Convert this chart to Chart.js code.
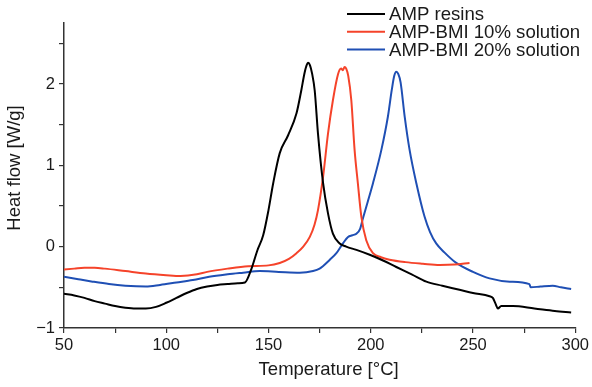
<!DOCTYPE html>
<html>
<head>
<meta charset="utf-8">
<script src="https://cdn.jsdelivr.net/npm/chart.js@4.4.0/dist/chart.umd.min.js"></script>
<style>
  html, body { margin: 0; padding: 0; background: #fff; }
  #wrap { width: 592px; height: 387px; }
</style>
</head>
<body>
<div id="wrap"><canvas id="dsc"></canvas></div>
<script>
// DSC curves (temperature in °C, heat flow in W/g)
const seriesNames = ["AMP resins", "AMP-BMI 10% solution", "AMP-BMI 20% solution"];

const ampTemp = [50, 55, 60, 65, 70, 75, 80, 85, 90, 95, 100, 105, 110, 115, 120, 125, 130, 135, 138.5,
  141.7, 144.5, 147.4, 150, 152.3, 155.5, 159.6, 163.7, 166.1, 167.5, 168.5, 169.4, 170.3, 171.3, 172.6,
  174.2, 176.7, 179.1, 181.5, 184.8, 188, 193, 199.5, 206, 212.5, 220, 227.2, 235, 243.4, 250, 258.1,
  259.7, 261, 262.2, 263.8, 269.5, 280, 290, 298];
const ampFlow = [-0.58, -0.6, -0.63, -0.67, -0.7, -0.73, -0.75, -0.76, -0.76, -0.74, -0.69, -0.63, -0.57,
  -0.52, -0.49, -0.47, -0.46, -0.45, -0.44, -0.27, -0.05, 0.14, 0.45, 0.78, 1.15, 1.37, 1.64, 1.93, 2.12,
  2.22, 2.26, 2.23, 2.13, 1.92, 1.39, 0.78, 0.41, 0.16, 0.04, 0.0, -0.04, -0.1, -0.17, -0.25, -0.34,
  -0.43, -0.48, -0.53, -0.57, -0.61, -0.63, -0.7, -0.76, -0.73, -0.73, -0.76, -0.79, -0.81];

const bmi10Temp = [50, 55, 60, 65, 70, 80, 90, 100, 107, 115, 120, 130, 140, 150, 155.5, 160, 163.7, 167,
  170.2, 172.5, 174.2, 176.7, 179.1, 181.5, 184, 185.5, 186.4, 187.2, 188, 189, 190.5, 192.1, 193.7,
  195.4, 197.8, 201.1, 205, 209.2, 217, 225.5, 233.7, 241, 248.3];
const bmi10Flow = [-0.28, -0.27, -0.26, -0.26, -0.27, -0.3, -0.33, -0.35, -0.36, -0.34, -0.31, -0.27,
  -0.24, -0.23, -0.2, -0.15, -0.08, 0.0, 0.12, 0.27, 0.45, 0.86, 1.39, 1.8, 2.12, 2.19, 2.17, 2.21, 2.19,
  2.1, 1.8, 1.19, 0.78, 0.37, 0.08, -0.08, -0.13, -0.16, -0.19, -0.21, -0.225, -0.22, -0.2];

const bmi20Temp = [50, 57, 64, 72, 80, 90, 97, 105, 113, 121, 130, 137.6, 145.7, 155, 165.3, 171.8, 175,
  180, 183.2, 186.4, 188.9, 191, 193, 194.8, 196.2, 198.5, 201.1, 205.2, 208.4, 210.3, 211.5, 212.5,
  213.5, 214.6, 216.6, 219, 222.3, 226.3, 229, 232, 236, 241.8, 250, 258.1, 268, 277.6, 278.2, 283, 289,
  293, 298];
const bmi20Flow = [-0.37, -0.4, -0.43, -0.46, -0.48, -0.49, -0.47, -0.44, -0.41, -0.37, -0.34, -0.32,
  -0.3, -0.31, -0.32, -0.3, -0.27, -0.16, -0.08, 0.04, 0.12, 0.14, 0.16, 0.22, 0.35, 0.55, 0.78, 1.19,
  1.6, 1.93, 2.1, 2.15, 2.12, 2.02, 1.6, 1.19, 0.78, 0.37, 0.18, 0.04, -0.07, -0.2, -0.31, -0.39, -0.43,
  -0.46, -0.5, -0.49, -0.48, -0.5, -0.52];

const xMajorTicks = [50, 100, 150, 200, 250, 300];
const yMajorTicks = [-1, 0, 1, 2];
const xTitle = "Temperature [°C]";
const yTitle = "Heat flow [W/g]";

const colors = ["#000000", "#f5432a", "#1f4fb4"];
const FONT = '"Liberation Sans", Arial, Helvetica, sans-serif';

function pairs(xs, ys) {
  return xs.map((x, i) => ({ x: x, y: ys[i] }));
}

// legend in the top right corner and the two axis titles
const overlay = {
  id: "overlay",
  afterDraw(chart) {
    const ctx = chart.ctx;
    const area = chart.chartArea;
    ctx.save();
    ctx.font = "18.6px " + FONT;
    ctx.textBaseline = "middle";
    chart.data.datasets.forEach((ds, i) => {
      const y = 14 + i * 17.7;
      ctx.strokeStyle = ds.borderColor;
      ctx.lineWidth = 2;
      ctx.beginPath();
      ctx.moveTo(347, y);
      ctx.lineTo(385, y);
      ctx.stroke();
      ctx.fillStyle = "#1a1a1a";
      ctx.fillText(ds.label, 389, y + 1);
    });

    ctx.font = "18.5px " + FONT;
    ctx.fillStyle = "#1a1a1a";
    ctx.textAlign = "center";
    ctx.fillText(xTitle, area.left + (area.right - area.left) / 2 + 9, 370);
    ctx.translate(15, 168);
    ctx.rotate(-Math.PI / 2);
    ctx.fillText(yTitle, 0, 0);
    ctx.restore();
  }
};

new Chart(document.getElementById("dsc"), {
  type: "line",
  data: {
    datasets: [
      { label: seriesNames[0], data: pairs(ampTemp, ampFlow), borderColor: colors[0] },
      { label: seriesNames[1], data: pairs(bmi10Temp, bmi10Flow), borderColor: colors[1] },
      { label: seriesNames[2], data: pairs(bmi20Temp, bmi20Flow), borderColor: colors[2] },
    ],
  },
  options: {
    responsive: true,
    maintainAspectRatio: false,
    animation: false,
    layout: { padding: { top: 23, right: 16, bottom: 0, left: 0 } },
    elements: {
      point: { radius: 0 },
      line: { borderWidth: 2, cubicInterpolationMode: "monotone", fill: false },
    },
    plugins: {
      legend: { display: false },
      tooltip: { enabled: false },
    },
    scales: {
      x: {
        type: "linear",
        min: 50,
        max: 300,
        afterFit: (s) => { s.height = 59; },
        border: { display: true, color: "#333", width: 1.5 },
        grid: { drawOnChartArea: false, drawTicks: true, tickLength: 5, color: "#333", lineWidth: 1.2 },
        ticks: {
          stepSize: 25,
          includeBounds: false,
          maxRotation: 0,
          autoSkip: false,
          padding: 3,
          color: "#1a1a1a",
          font: { family: FONT, size: 16.5 },
          callback: (v) => (xMajorTicks.includes(v) ? String(v) : ""),
        },
      },
      y: {
        min: -1,
        max: 2.75,
        afterFit: (s) => { s.width = 64; },
        border: { display: true, color: "#333", width: 1.5 },
        grid: { drawOnChartArea: false, drawTicks: true, tickLength: 5, color: "#333", lineWidth: 1.2 },
        ticks: {
          stepSize: 0.5,
          includeBounds: false,
          autoSkip: false,
          padding: 4,
          color: "#1a1a1a",
          font: { family: FONT, size: 16.5 },
          callback: (v) => (yMajorTicks.includes(v) ? String(v).replace("-", "\u2212") : ""),
        },
      },
    },
  },
  plugins: [overlay],
});
</script>
</body>
</html>
